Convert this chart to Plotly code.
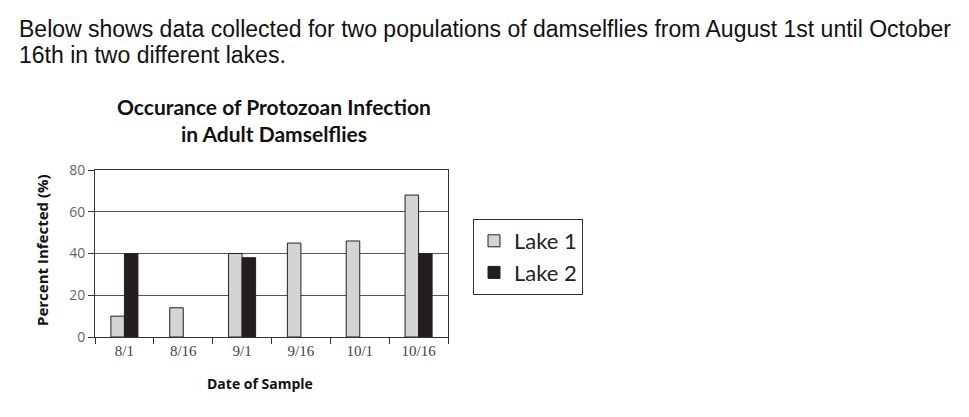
import plotly.graph_objects as go

dates = ["8/1", "8/16", "9/1", "9/16", "10/1", "10/16"]
lake1 = [10, 14, 40, 45, 46, 68]
lake2 = [40, None, 38, None, None, 40]
y_ticks = [0, 20, 40, 60, 80]

OFF = 8  # page body margin
W, H = 969 - OFF, 417 - OFF
L, R, T, B = 95 - OFF, 448 - OFF, 170 - OFF, 337 - OFF  # plot area in pixels

def px(x):
    return (x - OFF - L) / (R - L)

def py(y):
    return (B - (y - OFF)) / (B - T)

fig = go.Figure()
fig.add_trace(go.Bar(x=dates, y=lake1, name="Lake 1",
                     marker=dict(color="#d4d4d4", line=dict(color="#222222", width=1))))
fig.add_trace(go.Bar(x=dates, y=lake2, name="Lake 2",
                     marker=dict(color="#231f20", line=dict(color="#222222", width=1))))

fig.update_layout(
    width=W, height=H,
    margin=dict(l=L, r=W - R, t=T, b=H - B, pad=0),
    paper_bgcolor="white", plot_bgcolor="white",
    barmode="group", bargap=0.54, bargroupgap=0,
    showlegend=True,
    legend=dict(x=px(473), y=py(219), xanchor="left", yanchor="top",
                bordercolor="#333333", borderwidth=1, bgcolor="white",
                font=dict(family="Lato", size=22, color="#222222"),
                tracegroupgap=0, itemwidth=30),
    xaxis=dict(type="category", tickson="boundaries", ticks="outside", ticklen=6,
               tickcolor="#333333", showline=True, linecolor="#333333", linewidth=1,
               mirror=True, showgrid=False,
               tickfont=dict(family="Liberation Serif", size=15, color="#444444")),
    yaxis=dict(range=[0, 80], tickvals=y_ticks, ticks="outside", ticklen=6,
               tickcolor="#333333", showline=True, linecolor="#333333", linewidth=1,
               mirror=True, showgrid=True, gridcolor="#555555", gridwidth=1,
               zeroline=False,
               tickfont=dict(family="Open Sans", size=14, color="#666666")),
)

annos = [
    dict(text="Below shows data collected for two populations of damselflies from August 1st until October",
         x=px(17), y=py(29), xanchor="left", yanchor="middle", align="left",
         font=dict(family="Liberation Sans", size=23, color="#111111")),
    dict(text="16th in two different lakes.",
         x=px(17), y=py(55), xanchor="left", yanchor="middle", align="left",
         font=dict(family="Liberation Sans", size=23, color="#111111")),
    dict(text="<b>Occurance of Protozoan Infection<br>in Adult Damselflies</b>",
         x=px(274), y=py(120), xanchor="center", yanchor="middle", align="center",
         font=dict(family="Lato", size=21, color="#111111")),
    dict(text="<b>Date of Sample</b>",
         x=px(260), y=py(383), xanchor="center", yanchor="middle",
         font=dict(family="Open Sans", size=14, color="#111111")),
    dict(text="<b>Percent Infected (%)</b>", textangle=-90,
         x=px(42), y=py(250), xanchor="center", yanchor="middle",
         font=dict(family="Open Sans", size=15, color="#111111")),
]
for a in annos:
    a.update(xref="paper", yref="paper", showarrow=False)
    fig.add_annotation(**a)

fig.write_html("out.html")
